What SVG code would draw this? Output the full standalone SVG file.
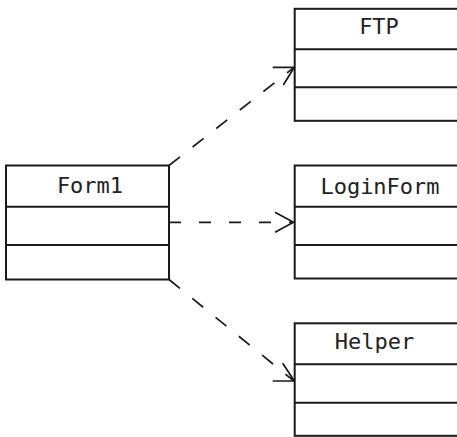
<svg xmlns="http://www.w3.org/2000/svg" width="457" height="437" viewBox="0 0 457 437">
<style>
.box{fill:#fff;stroke:#1a1a1a;stroke-width:2}
.div{stroke:#1a1a1a;stroke-width:2}
.lbl{font-family:"DejaVu Sans Mono",monospace;font-size:22px;fill:#222;text-anchor:middle}
.dash{fill:none;stroke:#1a1a1a;stroke-width:1.7;stroke-dasharray:14 16}
.head{fill:none;stroke:#1a1a1a;stroke-width:1.7}
</style>
<rect width="457" height="437" fill="#fff"/>
<g id="connectors">
<line class="dash" x1="169" y1="165.5" x2="294" y2="67.5"/>
<polyline class="head" points="272.7,67.3 294.3,67.3 283.3,85"/>
<line class="dash" x1="169" y1="222.3" x2="292" y2="222.3" style="stroke-dasharray:12 18"/>
<polyline class="head" points="275,212.3 293.5,222.3 275,232.3"/>
<line class="dash" x1="169" y1="279.5" x2="294" y2="381"/>
<polyline class="head" points="272.7,381 294.3,381 282.7,363.3"/>
</g>
<g id="Form1">
<rect class="box" x="6" y="165.5" width="163" height="114"/>
<line class="div" x1="6" y1="206.7" x2="169" y2="206.7"/>
<line class="div" x1="6" y1="245" x2="169" y2="245"/>
<text class="lbl" x="90" y="193">Form1</text>
</g>
<g id="FTP">
<rect class="box" x="294.7" y="8.8" width="180" height="112"/>
<line class="div" x1="294.7" y1="49.3" x2="474.7" y2="49.3"/>
<line class="div" x1="294.7" y1="87.3" x2="474.7" y2="87.3"/>
<text class="lbl" x="379" y="34">FTP</text>
</g>
<g id="LoginForm">
<rect class="box" x="294.7" y="165.5" width="180" height="113"/>
<line class="div" x1="294.7" y1="206.7" x2="474.7" y2="206.7"/>
<line class="div" x1="294.7" y1="245" x2="474.7" y2="245"/>
<text class="lbl" x="380" y="194">LoginForm</text>
</g>
<g id="Helper">
<rect class="box" x="294.7" y="323.3" width="180" height="112.5"/>
<line class="div" x1="294.7" y1="364.3" x2="474.7" y2="364.3"/>
<line class="div" x1="294.7" y1="402.7" x2="474.7" y2="402.7"/>
<text class="lbl" x="374.5" y="349">Helper</text>
</g>
</svg>
